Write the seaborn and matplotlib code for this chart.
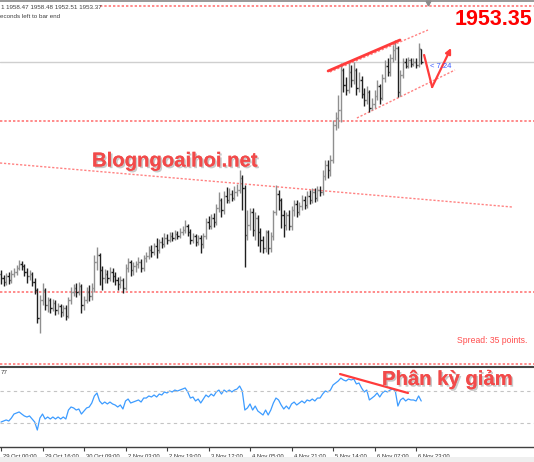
import numpy as np
import pandas as pd
import seaborn as sns
import matplotlib
matplotlib.use("Agg")
import matplotlib.pyplot as plt
from matplotlib import patheffects as pe
from matplotlib.patches import Rectangle
from matplotlib.lines import Line2D
from matplotlib.transforms import ScaledTranslation

# ---------------- data ----------------
time_labels = ["29 Oct 00:00", "29 Oct 16:00", "30 Oct 09:00", "2 Nov 03:00", "2 Nov 19:00",
               "3 Nov 12:00", "4 Nov 05:00", "4 Nov 21:00", "5 Nov 14:00", "6 Nov 07:00", "6 Nov 23:00"]
label_bars = [0, 16, 32, 48, 64, 80, 96, 112, 128, 144, 160]

opens = [1868.6, 1867.0, 1865.4, 1867.8, 1866.2, 1868.6, 1869.4, 1871.0, 1872.6, 1871.8,
         1869.4, 1867.8, 1868.6, 1865.4, 1862.2, 1851.0, 1858.2, 1862.2, 1856.2, 1858.2,
         1855.0, 1857.0, 1854.2, 1855.8, 1853.4, 1855.0, 1851.8, 1858.2, 1861.4, 1863.0,
         1861.4, 1863.8, 1856.2, 1858.2, 1861.4, 1859.8, 1863.0, 1873.4, 1876.2, 1870.2,
         1867.0, 1868.6, 1867.0, 1869.4, 1867.8, 1866.2, 1864.6, 1866.2, 1863.0, 1871.0,
         1873.4, 1870.2, 1871.8, 1872.6, 1873.4, 1871.0, 1875.0, 1875.8, 1878.2, 1877.4,
         1879.8, 1878.2, 1881.4, 1880.6, 1883.0, 1882.2, 1883.8, 1883.0, 1884.6, 1883.8,
         1885.4, 1886.2, 1887.8, 1885.4, 1882.2, 1883.8, 1881.4, 1883.0, 1880.6, 1883.8,
         1889.4, 1887.8, 1891.0, 1889.4, 1895.0, 1898.2, 1894.2, 1899.8, 1898.2, 1900.6,
         1899.0, 1901.4, 1902.2, 1907.0, 1903.0, 1884.2, 1888.2, 1893.4, 1886.2, 1891.0,
         1885.4, 1882.2, 1879.0, 1885.4, 1879.0, 1883.8, 1893.4, 1900.6, 1898.2, 1892.2,
         1888.2, 1892.2, 1887.8, 1894.2, 1896.6, 1893.4, 1895.8, 1898.2, 1896.2, 1899.8,
         1898.2, 1901.4, 1899.0, 1902.2, 1901.4, 1907.8, 1912.2, 1910.2, 1914.2, 1928.2,
         1931.0, 1934.2, 1950.2, 1944.2, 1942.2, 1949.4, 1946.2, 1950.2, 1943.0, 1946.2,
         1940.6, 1938.2, 1941.4, 1935.0, 1936.6, 1939.8, 1943.8, 1939.0, 1947.0, 1951.8,
         1949.4, 1955.0, 1958.2, 1959.0, 1941.4, 1948.2, 1953.4, 1951.8, 1954.2, 1952.6,
         1953.4, 1952.2, 1958.47]

highs = [1870.2, 1868.2, 1869.0, 1869.4, 1870.2, 1871.0, 1872.2, 1874.2, 1873.8, 1872.6,
         1871.0, 1870.2, 1869.4, 1867.0, 1863.0, 1860.2, 1865.0, 1863.0, 1859.4, 1859.0,
         1858.6, 1858.2, 1857.0, 1856.6, 1856.2, 1856.2, 1859.4, 1863.4, 1864.6, 1865.0,
         1865.4, 1864.6, 1859.8, 1863.4, 1864.2, 1865.0, 1876.2, 1879.4, 1877.0, 1871.8,
         1870.6, 1870.2, 1871.4, 1871.0, 1869.4, 1867.4, 1867.8, 1867.0, 1872.6, 1875.0,
         1874.2, 1873.4, 1873.8, 1875.4, 1874.6, 1876.2, 1877.4, 1879.8, 1880.2, 1881.0,
         1883.0, 1882.6, 1883.4, 1885.0, 1884.6, 1885.4, 1885.4, 1886.2, 1885.8, 1887.0,
         1887.8, 1890.2, 1888.6, 1886.6, 1885.0, 1884.6, 1884.2, 1884.2, 1885.0, 1891.0,
         1891.8, 1892.6, 1893.0, 1896.6, 1901.4, 1899.0, 1901.8, 1903.4, 1903.0, 1902.2,
         1903.8, 1904.6, 1910.2, 1908.2, 1904.2, 1894.2, 1895.0, 1895.0, 1893.4, 1892.2,
         1887.0, 1883.8, 1886.2, 1886.2, 1885.4, 1894.2, 1904.2, 1902.2, 1899.0, 1894.2,
         1893.4, 1894.2, 1895.8, 1898.2, 1898.2, 1897.4, 1900.2, 1899.8, 1901.8, 1902.2,
         1903.0, 1903.0, 1903.8, 1903.8, 1910.2, 1914.2, 1914.2, 1916.2, 1930.2, 1933.4,
         1940.2, 1953.0, 1951.0, 1947.4, 1953.0, 1952.2, 1953.4, 1951.0, 1949.4, 1947.8,
         1943.0, 1943.8, 1942.2, 1939.0, 1942.2, 1946.2, 1944.6, 1948.6, 1954.2, 1955.0,
         1956.6, 1960.2, 1962.2, 1959.8, 1950.2, 1955.0, 1955.0, 1955.4, 1955.0, 1955.0,
         1955.0, 1961.0, 1958.48]

lows = [1864.6, 1863.8, 1864.2, 1864.6, 1865.0, 1867.4, 1868.2, 1870.2, 1870.2, 1867.8,
        1865.0, 1866.2, 1863.8, 1860.6, 1849.0, 1845.0, 1856.2, 1854.2, 1853.4, 1853.0,
        1853.8, 1852.2, 1852.6, 1851.4, 1851.8, 1850.2, 1851.0, 1856.6, 1859.8, 1859.4,
        1860.2, 1853.0, 1854.2, 1857.0, 1857.8, 1858.2, 1861.4, 1870.2, 1864.2, 1862.2,
        1865.0, 1865.0, 1865.8, 1865.4, 1864.2, 1862.2, 1863.0, 1861.0, 1862.2, 1869.4,
        1867.8, 1868.2, 1869.4, 1871.0, 1869.4, 1869.8, 1873.4, 1874.6, 1875.4, 1876.2,
        1875.0, 1877.0, 1879.0, 1879.4, 1880.6, 1881.4, 1881.8, 1882.2, 1882.6, 1883.0,
        1884.2, 1885.0, 1883.8, 1880.6, 1881.0, 1879.8, 1880.2, 1877.0, 1879.0, 1882.6,
        1886.6, 1886.6, 1887.4, 1888.2, 1893.4, 1891.4, 1892.6, 1897.0, 1897.0, 1897.8,
        1898.2, 1899.8, 1901.0, 1894.2, 1871.4, 1882.2, 1886.2, 1883.8, 1882.2, 1879.8,
        1877.4, 1877.0, 1877.4, 1876.6, 1877.4, 1882.2, 1892.2, 1894.2, 1887.0, 1883.4,
        1886.2, 1886.2, 1886.2, 1891.8, 1891.4, 1892.2, 1894.2, 1894.6, 1895.0, 1896.6,
        1897.0, 1897.4, 1897.8, 1899.8, 1900.2, 1906.2, 1907.0, 1907.8, 1913.0, 1926.2,
        1927.0, 1929.4, 1941.4, 1940.2, 1941.0, 1943.4, 1944.6, 1940.2, 1941.4, 1939.0,
        1935.8, 1936.6, 1933.4, 1934.2, 1935.0, 1938.2, 1936.6, 1938.2, 1945.4, 1947.8,
        1947.8, 1953.4, 1954.2, 1939.4, 1939.8, 1947.0, 1951.0, 1951.0, 1951.4, 1951.8,
        1951.0, 1951.4, 1952.51]

closes = [1867.0, 1865.4, 1867.8, 1866.2, 1868.6, 1869.4, 1871.0, 1872.6, 1871.8, 1869.4,
          1867.8, 1868.6, 1865.4, 1862.2, 1851.0, 1858.2, 1862.2, 1856.2, 1858.2, 1855.0,
          1857.0, 1854.2, 1855.8, 1853.4, 1855.0, 1851.8, 1858.2, 1861.4, 1863.0, 1861.4,
          1863.8, 1856.2, 1858.2, 1861.4, 1859.8, 1863.0, 1873.4, 1876.2, 1870.2, 1867.0,
          1868.6, 1867.0, 1869.4, 1867.8, 1866.2, 1864.6, 1866.2, 1863.0, 1871.0, 1873.4,
          1870.2, 1871.8, 1872.6, 1873.4, 1871.0, 1875.0, 1875.8, 1878.2, 1877.4, 1879.8,
          1878.2, 1881.4, 1880.6, 1883.0, 1882.2, 1883.8, 1883.0, 1884.6, 1883.8, 1885.4,
          1886.2, 1887.8, 1885.4, 1882.2, 1883.8, 1881.4, 1883.0, 1880.6, 1883.8, 1889.4,
          1887.8, 1891.0, 1889.4, 1895.0, 1898.2, 1894.2, 1899.8, 1898.2, 1900.6, 1899.0,
          1901.4, 1902.2, 1907.0, 1903.0, 1884.2, 1888.2, 1893.4, 1886.2, 1891.0, 1885.4,
          1882.2, 1879.0, 1885.4, 1879.0, 1883.8, 1893.4, 1900.6, 1898.2, 1892.2, 1888.2,
          1892.2, 1887.8, 1894.2, 1896.6, 1893.4, 1895.8, 1898.2, 1896.2, 1899.8, 1898.2,
          1901.4, 1899.0, 1902.2, 1901.4, 1907.8, 1912.2, 1910.2, 1914.2, 1928.2, 1931.0,
          1934.2, 1950.2, 1944.2, 1942.2, 1949.4, 1946.2, 1950.2, 1943.0, 1946.2, 1940.6,
          1938.2, 1941.4, 1935.0, 1936.6, 1939.8, 1943.8, 1939.0, 1947.0, 1951.8, 1949.4,
          1955.0, 1958.2, 1959.0, 1941.4, 1948.2, 1953.4, 1951.8, 1954.2, 1952.6, 1953.4,
          1952.2, 1959.0, 1953.37]

rsi = [31.2, 32.5, 33.8, 32.5, 36.2, 41.2, 42.5, 43.8, 41.2, 38.8,
       37.5, 38.8, 35.0, 31.2, 21.2, 36.2, 41.2, 35.0, 37.5, 35.0,
       37.5, 35.0, 37.5, 35.0, 37.5, 35.0, 46.2, 50.0, 48.8, 46.2,
       47.5, 41.2, 45.0, 48.8, 50.0, 55.0, 63.8, 67.5, 57.5, 53.8,
       56.2, 53.8, 56.2, 53.8, 52.5, 50.0, 52.5, 47.5, 57.5, 60.0,
       55.0, 56.2, 57.5, 58.8, 56.2, 61.2, 61.2, 63.8, 62.5, 65.0,
       62.5, 66.2, 65.0, 68.8, 67.5, 70.0, 68.8, 71.2, 70.0, 71.2,
       72.5, 73.8, 68.8, 61.2, 62.5, 57.5, 60.0, 55.0, 60.0, 65.0,
       62.5, 66.2, 63.8, 68.8, 71.2, 66.2, 71.2, 68.8, 71.2, 68.8,
       71.2, 72.5, 76.2, 70.0, 46.2, 48.8, 53.8, 46.2, 51.2, 45.0,
       42.5, 40.0, 46.2, 40.0, 46.2, 55.0, 61.2, 58.8, 52.5, 47.5,
       51.2, 47.5, 53.8, 56.2, 52.5, 55.0, 57.5, 55.0, 58.8, 57.5,
       60.0, 57.5, 61.2, 61.2, 66.2, 70.0, 68.8, 71.2, 77.5, 80.0,
       82.5, 86.2, 83.8, 82.5, 85.0, 83.8, 85.0, 78.8, 80.0, 73.8,
       68.8, 71.2, 58.8, 61.2, 63.8, 67.5, 62.5, 67.5, 70.0, 68.8,
       71.2, 72.5, 70.0, 51.2, 58.8, 61.2, 57.5, 60.0, 58.8, 58.8,
       57.5, 63.8, 57.5]

bid_price = 1953.35
hline_levels = [1929.8, 1861.4, 1832.6]
top_level = 1976.0
rsi_levels = [70, 30]
trend_line = ([-0.39, 197.0], [1913.0, 1895.4])
channel_upper = ([126.8, 164.6], [1949.4, 1966.2])
channel_lower = ([137.2, 175.0], [1931.0, 1950.2])
wedge_top = ([126.1, 153.8], [1949.8, 1962.2])
arrow_path = ([163.1, 166.2, 173.5], [1956.2, 1943.4, 1959.0])
rsi_divergence = ([130.7, 156.9], [91.2, 67.5])

df = pd.DataFrame({"bar": np.arange(len(closes)), "open": opens, "high": highs,
                   "low": lows, "close": closes, "rsi": rsi})

# ---------------- figure ----------------
sns.set_theme(style="white")
plt.rcParams["font.family"] = ["Liberation Sans", "DejaVu Sans"]
W, H = 534, 462
fig = plt.figure(figsize=(W / 100, H / 100), dpi=100)
fig.patch.set_facecolor("white")

def fx(px):
    return px / W

def fy(py):
    return 1 - py / H

ax = fig.add_axes([0, fy(366), 1, 364 / H])
ax2 = fig.add_axes([0, fy(447), 1, 80 / H], sharex=ax)
for a in (ax, ax2):
    a.set_facecolor("white")
    for s in a.spines.values():
        s.set_visible(False)

ax.set_xlim(-0.385, 205.47)
ax.set_ylim(1831.8, 1977.4)
ax.set_yticks([])
ax.tick_params(axis="x", bottom=False, labelbottom=False)

red_dot = dict(color="#ff6b6b", lw=1.3, ls=(0, (1.3, 1.1)), alpha=0.85)

# reference lines
ax.axhline(top_level, xmin=100 / W, **red_dot)
ax.axhline(bid_price, color="#cfcfcf", lw=1.0)
for lv in hline_levels:
    ax.axhline(lv, **red_dot)
thin_dot = dict(color="#ff6b6b", lw=1.0, ls=(0, (1.6, 1.3)), alpha=0.85)
ax.plot(trend_line[0], trend_line[1], **thin_dot)
ax.plot(channel_upper[0], channel_upper[1], **thin_dot)
ax.plot(channel_lower[0], channel_lower[1], **thin_dot)

# OHLC bars
up = df["close"] >= df["open"]
colors = np.where(up, "#8f8f8f", "#1f1f1f")
ax.vlines(df["bar"], df["low"], df["high"], colors=colors, lw=1.0)
ax.hlines(df["open"], df["bar"] - 0.5, df["bar"], colors=colors, lw=1.0)
ax.hlines(df["close"], df["bar"], df["bar"] + 0.5, colors=colors, lw=1.0)

# annotations on price
ax.plot(wedge_top[0], wedge_top[1], color="#ff3b3b", lw=2.0, solid_capstyle="round")
ax.plot(arrow_path[0][:2], arrow_path[1][:2], color="#ff3b3b", lw=1.6)
ax.annotate("", xy=(arrow_path[0][2], arrow_path[1][2]),
            xytext=(arrow_path[0][1], arrow_path[1][1]),
            arrowprops=dict(arrowstyle="-|>", color="#ff3b3b", lw=1.6,
                            mutation_scale=8, shrinkA=0, shrinkB=0))
ax.text(165.4, 1951.4, "< 7.24", color="#3b5bff", fontsize=5.5, va="center", ha="left")

# RSI panel
sns.lineplot(data=df, x="bar", y="rsi", ax=ax2, color="#3d9cff", lw=0.9)
for lv in rsi_levels:
    ax2.axhline(lv, color="#c4c4c4", lw=0.8, ls=(0, (3, 3)))
ax2.plot(rsi_divergence[0], rsi_divergence[1], color="#ff3b3b", lw=1.6)
ax2.set_ylim(0, 100)
ax2.set_yticks([])
ax2.set_ylabel("")
ax2.set_xlabel("")
ax2.spines["bottom"].set_visible(True)
ax2.spines["bottom"].set_color("#404040")
ax2.spines["bottom"].set_linewidth(1.0)
ax2.set_xticks(label_bars)
ax2.set_xticklabels(time_labels, ha="left",
                    fontdict={"family": ["Liberation Sans", "DejaVu Sans"], "size": 4.2})
ax2.tick_params(axis="x", bottom=True, length=3, width=0.8, color="#404040",
                pad=1.8, labelcolor="#303030")
off = ScaledTranslation(2 / 100, 0, fig.dpi_scale_trans)
for lab in ax2.get_xticklabels():
    lab.set_transform(lab.get_transform() + off)
ax2.set_xlim(-0.385, 205.47)

# frame elements
fig.add_artist(Rectangle((0, fy(2)), 1, 2 / H, transform=fig.transFigure,
                         facecolor="#9a9a9a", edgecolor="none"))
fig.add_artist(Line2D([0, 1], [fy(367), fy(367)], transform=fig.transFigure,
                      color="#454545", lw=1.5))
fig.add_artist(Rectangle((0, 0), 1, fy(457), transform=fig.transFigure,
                         facecolor="#efefef", edgecolor="none"))
fig.add_artist(Line2D([fx(428)], [fy(2.5)], transform=fig.transFigure, marker="v",
                      markersize=3.5, color="#8a8a8a", lw=0))

# texts
small = dict(fontsize=4.5, color="#404040", va="center")
fig.text(fx(0.5), fy(7.5), "1", **small)
fig.text(fx(6), fy(7.5), "1958.47 1958.48 1952.51 1953.37", **small)
fig.text(fx(0.5), fy(16), "econds left to bar end", **small)
fig.text(fx(0.5), fy(372.5), "77", **small)
fig.text(fx(455), fy(25), "1953.35", fontsize=15.5, weight="bold", color="#ff0000",
         va="baseline", ha="left")
fig.text(fx(457), fy(343), "Spread: 35 points.", fontsize=6.2, color="#ff4d4d",
         va="baseline", ha="left")

shadow = [pe.withSimplePatchShadow(offset=(1.2, -1.2), shadow_rgbFace="#888888", alpha=0.45),
          pe.Normal()]
fig.text(fx(92), fy(166.5), "Blogngoaihoi.net", fontsize=14.6, weight="bold",
         color="#f24a4a", va="baseline", ha="left", path_effects=shadow,
         family=["Liberation Sans", "DejaVu Sans"])
fig.text(fx(382), fy(385), "Phân kỳ giảm", fontsize=14.6, weight="bold",
         color="#f24a4a", va="baseline", ha="left", path_effects=shadow,
         family=["Liberation Sans", "DejaVu Sans"])

fig.savefig("out.png", dpi=100, facecolor="white")
